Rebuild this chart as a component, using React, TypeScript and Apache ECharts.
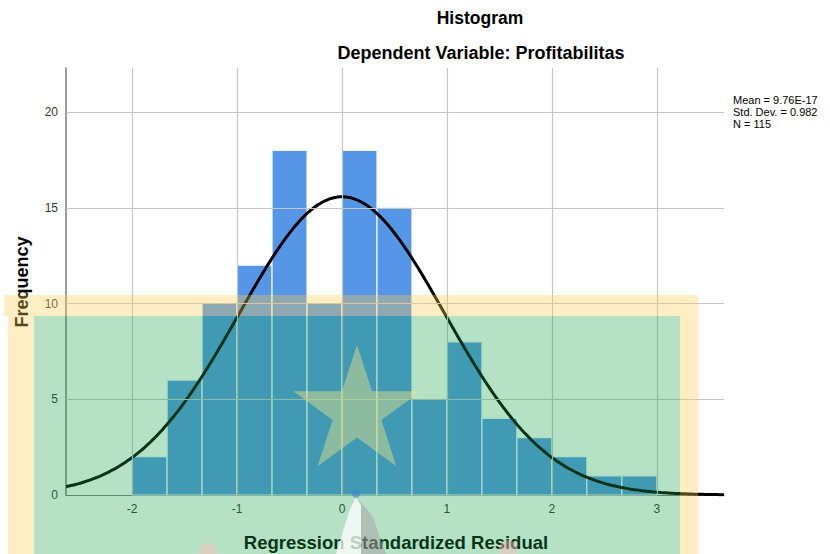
import React, { useEffect, useRef } from "react";
import * as echarts from "echarts";

// Histogram data
const binStart = -2;
const binWidth = 1 / 3;
const binCounts = [2, 6, 10, 12, 18, 10, 18, 15, 5, 8, 4, 3, 2, 1, 1];
const xTicks = [-2, -1, 0, 1, 2, 3];
const yTicks = [0, 5, 10, 15, 20];
const xRange = [-2.63, 3.64];
const yRange = [0, 22.3];
// Normal-curve parameters shown in the chart
const statMean = 9.76e-17;
const statSd = 0.982;
const statN = 115;
const statLines = ["Mean = 9.76E-17", "Std. Dev. = 0.982", "N = 115"];

const FONT = "'Liberation Sans', Arial, sans-serif";

function starPoints(cx: number, cy: number, R: number, r: number) {
  const pts: number[][] = [];
  for (let i = 0; i < 10; i++) {
    const rad = i % 2 === 0 ? R : r;
    const a = -Math.PI / 2 + (i * Math.PI) / 5;
    pts.push([cx + rad * Math.cos(a), cy + rad * Math.sin(a)]);
  }
  return pts;
}

export default function App() {
  const ref = useRef<HTMLDivElement>(null);
  useEffect(() => {
    document.body.style.margin = "0";
    if (!ref.current) return;
    const chart = echarts.init(ref.current, null, { renderer: "svg" });

    const barData = binCounts.map((c, i) => [
      binStart + i * binWidth,
      binStart + (i + 1) * binWidth,
      c,
    ]);
    const curve: number[][] = [];
    for (let x = xRange[0]; x <= xRange[1] + 1e-9; x += 0.03) {
      const z = (x - statMean) / statSd;
      const y =
        (statN * binWidth * Math.exp(-0.5 * z * z)) /
        (statSd * Math.sqrt(2 * Math.PI));
      curve.push([x, y]);
    }

    const yellow = "rgba(255,205,80,0.34)";

    chart.setOption({
      animation: false,
      grid: { left: 66, right: 106, top: 68, bottom: 59 },
      xAxis: {
        type: "value",
        min: xRange[0],
        max: xRange[1],
        axisLine: { show: true, onZero: false, lineStyle: { color: "#7d7d7d", width: 1 } },
        axisTick: { show: false },
        splitLine: { show: false },
        axisLabel: {
          customValues: xTicks,
          color: "#333",
          fontSize: 12,
          fontFamily: FONT,
          margin: 8,
        },
      },
      yAxis: {
        type: "value",
        min: yRange[0],
        max: yRange[1],
        axisLine: { show: true, onZero: false, lineStyle: { color: "#7d7d7d", width: 1.5 } },
        axisTick: { show: false },
        splitLine: { show: false },
        axisLabel: {
          customValues: yTicks,
          color: "#333",
          fontSize: 12,
          fontFamily: FONT,
          margin: 8,
        },
      },
      series: [
        {
          type: "line",
          data: [],
          z: 1,
          silent: true,
          markLine: {
            silent: true,
            symbol: "none",
            label: { show: false },
            lineStyle: { color: "#c6c6c6", type: "solid", width: 1.2 },
            data: [
              ...xTicks.map((v) => ({ xAxis: v })),
              ...yTicks.slice(1).map((v) => ({ yAxis: v })),
            ],
          },
        },
        {
          type: "custom",
          z: 2,
          data: barData,
          encode: { x: [0, 1], y: 2 },
          renderItem: (params: any, api: any) => {
            const p0 = api.coord([api.value(0), api.value(2)]);
            const p1 = api.coord([api.value(1), 0]);
            return {
              type: "rect",
              shape: {
                x: p0[0],
                y: p0[1],
                width: p1[0] - p0[0],
                height: p1[1] - p0[1],
              },
              style: { fill: "#5596e6", stroke: "#f2f7ff", lineWidth: 1.2 },
            };
          },
        },
        {
          type: "line",
          z: 3,
          data: curve,
          showSymbol: false,
          smooth: true,
          lineStyle: { color: "#000", width: 3 },
        },
      ],
      graphic: [
        {
          type: "text",
          z: 1,
          x: 480,
          y: 18,
          style: {
            text: "Histogram",
            font: `bold 17.5px ${FONT}`,
            fill: "#000",
            align: "center",
            verticalAlign: "middle",
          },
        },
        {
          type: "text",
          z: 1,
          x: 481,
          y: 53,
          style: {
            text: "Dependent Variable: Profitabilitas",
            font: `bold 18px ${FONT}`,
            fill: "#000",
            align: "center",
            verticalAlign: "middle",
          },
        },
        {
          type: "text",
          z: 1,
          x: 396,
          y: 542,
          style: {
            text: "Regression Standardized Residual",
            font: `bold 18.5px ${FONT}`,
            fill: "#000",
            align: "center",
            verticalAlign: "middle",
          },
        },
        {
          type: "text",
          z: 1,
          x: 22,
          y: 282,
          rotation: Math.PI / 2,
          style: {
            text: "Frequency",
            font: `bold 18px ${FONT}`,
            fill: "#000",
            align: "center",
            verticalAlign: "middle",
          },
        },
        {
          type: "text",
          z: 1,
          x: 733,
          y: 94,
          style: {
            text: statLines.join("\n"),
            font: `11px ${FONT}`,
            lineHeight: 12,
            fill: "#000",
            align: "left",
            verticalAlign: "top",
          },
        },
        // semi-transparent watermark overlay
        {
          type: "rect",
          z: 100,
          silent: true,
          shape: { x: 4, y: 295, width: 694, height: 21 },
          style: { fill: yellow },
        },
        {
          type: "rect",
          z: 100,
          silent: true,
          shape: { x: 8, y: 316, width: 26, height: 238 },
          style: { fill: yellow },
        },
        {
          type: "rect",
          z: 100,
          silent: true,
          shape: { x: 680, y: 316, width: 18, height: 238 },
          style: { fill: yellow },
        },
        {
          type: "rect",
          z: 100,
          silent: true,
          shape: { x: 34, y: 316, width: 646, height: 238 },
          style: { fill: "rgba(24,164,74,0.32)" },
        },
        {
          type: "polygon",
          z: 101,
          silent: true,
          shape: { points: starPoints(357, 412, 67, 25.6) },
          style: { fill: "rgba(235,228,135,0.45)" },
        },
        {
          type: "polygon",
          z: 101,
          silent: true,
          shape: { points: [[356, 497], [349, 512], [336, 554], [361, 554], [361, 505]] },
          style: { fill: "rgba(255,255,255,0.75)" },
        },
        {
          type: "polygon",
          z: 101,
          silent: true,
          shape: { points: [[356, 497], [361, 505], [361, 554], [386, 554], [372, 515]] },
          style: { fill: "rgba(170,160,168,0.5)" },
        },
        {
          type: "circle",
          z: 101,
          silent: true,
          shape: { cx: 356, cy: 494, r: 4 },
          style: { fill: "rgba(60,120,220,0.5)" },
        },
        {
          type: "ellipse",
          z: 101,
          silent: true,
          shape: { cx: 208, cy: 551, rx: 9, ry: 8 },
          style: { fill: "rgba(255,185,190,0.45)" },
        },
        {
          type: "ellipse",
          z: 101,
          silent: true,
          shape: { cx: 508, cy: 549, rx: 9, ry: 9 },
          style: { fill: "rgba(255,185,190,0.45)" },
        },
      ],
    });
    return () => chart.dispose();
  }, []);
  return <div ref={ref} style={{ width: 830, height: 554 }} />;
}
